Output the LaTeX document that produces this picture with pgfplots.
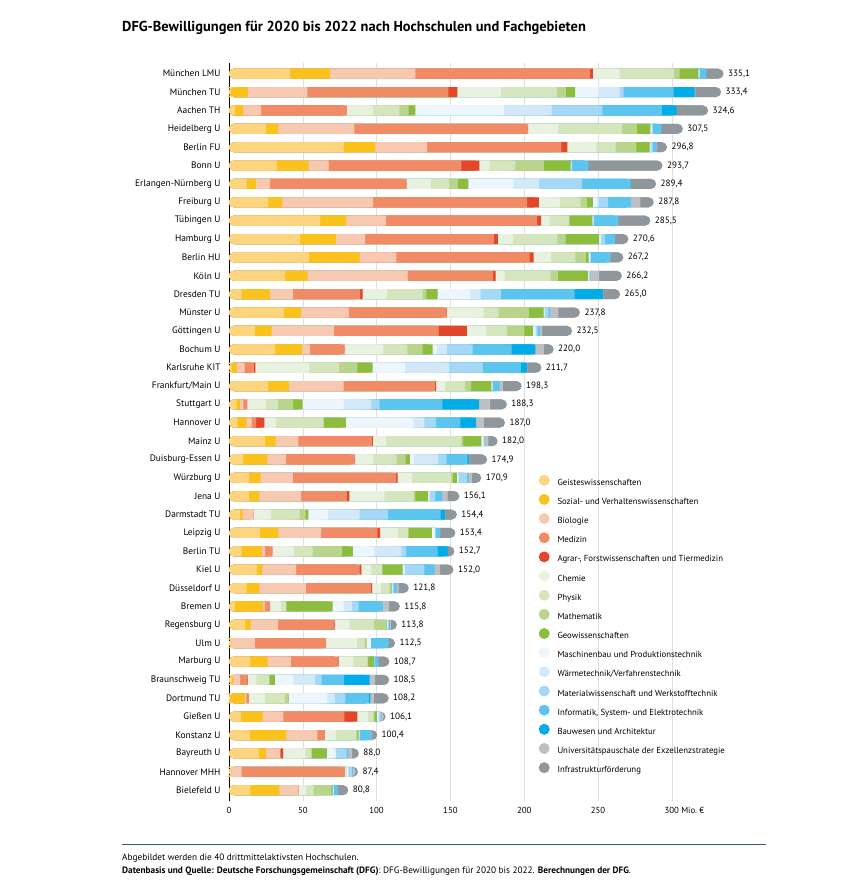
\documentclass[border=0pt]{standalone}
\usepackage{fontspec}
\setmainfont{PT Sans}
\usepackage{pgfplots}
\pgfplotsset{compat=1.18}
\usepackage{pgfplotstable}

\definecolor{cGei}{HTML}{FDD57E}
\definecolor{cSoz}{HTML}{FBC21B}
\definecolor{cBio}{HTML}{F8C9B1}
\definecolor{cMed}{HTML}{F08B65}
\definecolor{cAgr}{HTML}{E4462A}
\definecolor{cChe}{HTML}{E9F1E1}
\definecolor{cPhy}{HTML}{D5E5BE}
\definecolor{cMat}{HTML}{B8D58B}
\definecolor{cGeo}{HTML}{8CBD3C}
\definecolor{cMas}{HTML}{EEF6FD}
\definecolor{cWae}{HTML}{D4E9F8}
\definecolor{cWer}{HTML}{A5D8F6}
\definecolor{cInf}{HTML}{5BC5F0}
\definecolor{cBau}{HTML}{00ADE8}
\definecolor{cExz}{HTML}{BDC1C5}
\definecolor{cIst}{HTML}{90979C}
\definecolor{cLine}{HTML}{3C5570}

% Mio. Euro je Fachgebiet, Reihenfolge wie in der Grafik (0 = oben)
\pgfplotstableread{
idx g s b m a c p ma geo mb w mw inf bau ex infra lab
0 41.4 27.1 57.7 118.3 2.0 18.1 36.9 3.8 12.7 0.5 0.3 0.3 4.3 0 0 11.7 335,1
1 1.5 11.3 40.3 95.5 6.1 29.6 37.8 6.1 6.3 15.8 14.3 2.7 33.9 14.3 0.5 17.4 333,4
2 4.1 5.7 12.0 58.1 0 17.6 17.9 6.3 4.5 60.0 32.4 34.4 40.3 10.0 0 21.3 324,6
3 24.9 8.6 51.4 117.4 0.3 20.6 43.2 10.0 9.0 1.0 0.5 0.3 5.7 0 0 14.6 307,5
4 77.6 21.5 35.1 90.9 4.1 19.7 13.1 14.0 9.0 0.5 0.5 1.2 2.3 0 0.5 6.8 296,8
5 32.4 21.5 13.6 90.0 12.2 6.8 17.6 19.2 18.1 0.5 0.3 0.3 10.9 0 0 50.3 293,7
6 12.0 6.3 9.5 92.3 0.3 16.5 12.2 5.9 7.2 30.5 17.4 29.0 33.0 0.3 0 17.0 289,4
7 26.7 9.5 61.5 104.3 7.9 14.3 14.0 4.5 3.8 2.9 1.1 6.3 15.6 0 6.3 9.1 287,8
8 61.8 17.6 27.1 102.3 2.7 5.7 13.1 0.5 15.4 0.5 0.3 0.3 16.5 0 0 21.7 285,5
9 48.2 24.4 19.7 87.3 2.5 10.4 29.9 5.7 22.6 1.1 0.3 2.7 6.8 0 0 9.0 270,6
10 54.3 34.2 24.9 90.2 2.7 12.0 16.3 7.2 1.8 1.0 0.3 0.3 13.1 0 0.3 8.6 267,2
11 38.0 15.2 67.9 57.9 1.6 6.1 31.2 5.0 20.4 0.5 0.3 0.5 0.3 0 5.9 15.4 266,2
12 8.6 19.2 15.4 45.7 1.6 16.7 24.0 2.5 7.7 22.2 6.8 13.8 50.0 19.2 0.3 11.3 265,0
13 37.3 11.5 32.4 66.1 0.3 24.9 10.2 20.4 10.0 0.5 0.5 2.3 1.1 0 5.7 14.6 237,8
14 17.6 11.3 42.3 70.8 19.2 13.1 14.0 11.8 5.9 1.6 0.5 1.0 1.5 0 1.5 20.4 232,5
15 31.2 18.1 5.7 23.1 0.3 26.2 16.3 10.2 6.8 2.9 6.8 17.4 26.5 16.1 5.7 6.7 220,0
16 2.0 3.4 5.2 6.3 1.0 36.2 20.4 12.4 10.4 21.9 29.9 22.9 25.8 4.1 0.3 9.5 211,7
17 26.7 14.0 36.9 62.0 0.7 6.1 13.6 4.1 13.6 0.5 0.3 0.5 4.3 0 2.3 12.7 198,3
18 5.2 2.3 2.3 2.7 0 12.7 7.9 10.2 6.6 27.8 18.6 5.7 42.5 24.9 7.5 11.4 188,3
19 5.9 6.1 3.4 2.9 5.7 7.9 32.1 0.5 14.7 45.7 7.5 7.9 16.5 10.6 5.2 14.4 187,0
20 24.4 7.2 15.4 49.8 0.7 9.0 51.0 1.1 12.4 1.1 0.5 0.5 0.3 0 2.3 6.3 182,0
21 9.7 16.3 12.7 46.4 0.3 12.4 15.8 6.1 2.9 2.7 16.3 5.9 14.0 1.1 0.3 12.0 174,9
22 13.6 7.9 21.7 70.0 1.1 9.7 26.5 1.1 2.7 0.7 0.5 5.7 1.1 0 2.3 6.3 170,9
23 13.6 7.0 28.3 31.0 1.6 23.8 19.9 1.1 8.4 1.1 0.5 3.6 4.5 0 3.8 7.9 156,1
24 7.5 1.8 7.2 0.3 0 11.8 19.2 4.1 1.8 13.3 21.5 19.2 35.6 2.9 0.3 7.9 154,4
25 21.0 12.4 29.0 38.2 1.8 12.0 6.8 0.5 15.8 2.3 0 0 3.4 0 0 10.2 153,4
26 8.6 13.6 2.3 5.0 0 14.7 12.4 19.9 7.5 14.5 18.3 3.2 21.4 6.8 0 4.5 152,7
27 18.8 3.8 22.9 43.0 1.1 6.8 7.2 0.5 13.6 1.1 0.5 13.0 7.0 0 3.8 9.0 152,0
28 12.0 8.6 31.4 44.3 0.7 5.9 5.7 1.1 0.5 0.5 0.3 0.5 2.0 0 1.5 6.8 121,8
29 4.1 18.8 1.6 3.4 0 7.2 3.4 0.5 31.2 7.5 5.7 4.5 16.3 0 4.1 7.5 115,8
30 10.9 3.8 18.6 38.0 0.3 10.2 16.3 8.6 0.3 0.5 0.3 0.3 1.1 0 0.5 4.1 113,8
31 1.8 0 15.8 48.2 0 20.8 5.2 1.6 0 2.7 0 0 12.0 0 0 4.4 112,5
32 14.3 11.8 15.8 32.0 0.3 10.0 9.7 0.3 4.1 0 0 0.5 2.5 0 0 7.4 108,7
33 2.3 1.1 4.1 5.0 0.3 5.7 8.6 0.5 3.4 12.6 14.7 4.5 15.2 17.2 3.8 9.5 108,5
34 1.0 9.7 1.1 1.6 0 10.9 13.6 2.3 0.3 26.0 5.2 7.2 15.8 1.1 2.3 10.1 108,2
35 8.1 14.7 14.0 41.4 8.8 7.2 3.6 0.9 1.4 0.9 0.5 1.4 0.5 0 1.6 1.1 106,1
36 14.3 24.5 21.0 5.2 0 7.5 13.6 0.9 0.9 0.5 0 0.5 7.5 0 0.5 3.5 100,4
37 20.4 4.8 9.5 0.3 1.6 15.2 3.8 0.5 10.2 5.9 0.3 7.2 1.1 0 2.7 4.5 88,0
38 1.8 0 6.8 69.9 0 1.1 0.5 0 0 0.5 0.5 2.3 0.5 0 2.0 1.5 87,4
39 14.3 19.9 12.4 0.5 0 5.0 5.2 12.0 0.9 0.7 0 0 2.9 0 0 7.0 80,8
}\dfg

% kumulierte Summen fuer die abgerundeten Balkenenden
\pgfplotstablecreatecol[expr={\thisrow{g}}]{c1}\dfg
\pgfplotstablecreatecol[expr={\thisrow{c1}+\thisrow{s}}]{c2}\dfg
\pgfplotstablecreatecol[expr={\thisrow{c2}+\thisrow{b}}]{c3}\dfg
\pgfplotstablecreatecol[expr={\thisrow{c3}+\thisrow{m}}]{c4}\dfg
\pgfplotstablecreatecol[expr={\thisrow{c4}+\thisrow{a}}]{c5}\dfg
\pgfplotstablecreatecol[expr={\thisrow{c5}+\thisrow{c}}]{c6}\dfg
\pgfplotstablecreatecol[expr={\thisrow{c6}+\thisrow{p}}]{c7}\dfg
\pgfplotstablecreatecol[expr={\thisrow{c7}+\thisrow{ma}}]{c8}\dfg
\pgfplotstablecreatecol[expr={\thisrow{c8}+\thisrow{geo}}]{c9}\dfg
\pgfplotstablecreatecol[expr={\thisrow{c9}+\thisrow{mb}}]{c10}\dfg
\pgfplotstablecreatecol[expr={\thisrow{c10}+\thisrow{w}}]{c11}\dfg
\pgfplotstablecreatecol[expr={\thisrow{c11}+\thisrow{mw}}]{c12}\dfg
\pgfplotstablecreatecol[expr={\thisrow{c12}+\thisrow{inf}}]{c13}\dfg
\pgfplotstablecreatecol[expr={\thisrow{c13}+\thisrow{bau}}]{c14}\dfg
\pgfplotstablecreatecol[expr={\thisrow{c14}+\thisrow{ex}}]{c15}\dfg
\pgfplotstablecreatecol[expr={\thisrow{c15}+\thisrow{infra}}]{c16}\dfg

% Abschnitt eines Balkens ohne die beiden runden Enden (Radius 3.4 Einheiten)
\newcommand{\cl}[1]{min(max(\thisrow{#1},3.4),\thisrow{c16}-3.4)}

\pgfplotsset{
  geom/.style={
    at={(229bp,822.3bp)}, anchor=north west,
    x=1.476bp, y=18.37bp,
    xmin=0, xmax=345, ymin=-0.6, ymax=39.6,
    clip=false, bar width=10bp},
  rnd/.style={draw=none, rounded corners=5bp, bar shift=0pt},
  sq/.style={draw=none},
}

\begin{document}
\begin{tikzpicture}
\path[use as bounding box] (0,0) rectangle (849bp,885bp);

\node[anchor=base west, inner sep=0pt, font=\bfseries\fontsize{14.5}{16}\selectfont]
  at (122bp,853bp) {DFG-Bewilligungen für 2020 bis 2022 nach Hochschulen und Fachgebieten};

% Ebene 1: kumulierte Balken mit runden Enden, Achse, Legende, Summen
\begin{axis}[
  geom, xbar,
  axis lines*=left,
  x axis line style={draw=none},
  y axis line style={-, black, line width=0.8bp},
  major tick length=0pt,
  xmajorgrids, grid style={gray!25, line width=0.6bp},
  xtick={0,50,...,300},
  xticklabels={0,50,100,150,200,250,{300\rlap{\ Mio.~€}}},
  ytick={0,...,39},
  yticklabels={Bielefeld U, Hannover MHH, Bayreuth U, Konstanz U, Gießen U, Dortmund TU,
    Braunschweig TU, Marburg U, Ulm U, Regensburg U, Bremen U, Düsseldorf U, Kiel U,
    Berlin TU, Leipzig U, Darmstadt TU, Jena U, Würzburg U, Duisburg-Essen U, Mainz U,
    Hannover U, Stuttgart U, Frankfurt/Main U, Karlsruhe KIT, Bochum U, Göttingen U,
    Münster U, Dresden TU, Köln U, Berlin HU, Hamburg U, Tübingen U, Freiburg U,
    Erlangen-Nürnberg U, Bonn U, Berlin FU, Heidelberg U, Aachen TH, München TU, München LMU},
  yticklabel style={font=\fontsize{9.4}{10}\selectfont, xshift=-5bp},
  xticklabel style={font=\fontsize{8.8}{10}\selectfont, yshift=-3bp},
  reverse legend,
  legend cell align=left,
  legend image code/.code={\draw[#1, draw=none] (0bp,2.7bp) circle (5.5bp);},
  legend style={at={(axis cs:209.7,17.18)}, anchor=north west, draw=none, fill=none,
    inner sep=0pt, font=\fontsize{8.8}{10}\selectfont, row sep=7.1bp,
    nodes={inner sep=0pt},
    /tikz/every odd column/.append style={column sep=7.8bp}},
]
\addplot[rnd, fill=cIst, nodes near coords, point meta=explicit symbolic,
  every node near coord/.append style={font=\fontsize{9.2}{10}\selectfont, anchor=west, xshift=1bp, text=black}]
  table[x=c16, y expr=39-\thisrow{idx}, meta=lab] {\dfg};
\addlegendentry{Infrastrukturförderung}
\addplot[rnd, fill=cExz] table[x=c15, y expr=39-\thisrow{idx}] {\dfg};
\addlegendentry{Universitätspauschale der Exzellenzstrategie}
\addplot[rnd, fill=cBau] table[x=c14, y expr=39-\thisrow{idx}] {\dfg};
\addlegendentry{Bauwesen und Architektur}
\addplot[rnd, fill=cInf] table[x=c13, y expr=39-\thisrow{idx}] {\dfg};
\addlegendentry{Informatik, System- und Elektrotechnik}
\addplot[rnd, fill=cWer] table[x=c12, y expr=39-\thisrow{idx}] {\dfg};
\addlegendentry{Materialwissenschaft und Werkstofftechnik}
\addplot[rnd, fill=cWae] table[x=c11, y expr=39-\thisrow{idx}] {\dfg};
\addlegendentry{Wärmetechnik/Verfahrenstechnik}
\addplot[rnd, fill=cMas] table[x=c10, y expr=39-\thisrow{idx}] {\dfg};
\addlegendentry{Maschinenbau und Produktionstechnik}
\addplot[rnd, fill=cGeo] table[x=c9, y expr=39-\thisrow{idx}] {\dfg};
\addlegendentry{Geowissenschaften}
\addplot[rnd, fill=cMat] table[x=c8, y expr=39-\thisrow{idx}] {\dfg};
\addlegendentry{Mathematik}
\addplot[rnd, fill=cPhy] table[x=c7, y expr=39-\thisrow{idx}] {\dfg};
\addlegendentry{Physik}
\addplot[rnd, fill=cChe] table[x=c6, y expr=39-\thisrow{idx}] {\dfg};
\addlegendentry{Chemie}
\addplot[rnd, fill=cAgr] table[x=c5, y expr=39-\thisrow{idx}] {\dfg};
\addlegendentry{Agrar-, Forstwissenschaften und Tiermedizin}
\addplot[rnd, fill=cMed] table[x=c4, y expr=39-\thisrow{idx}] {\dfg};
\addlegendentry{Medizin}
\addplot[rnd, fill=cBio] table[x=c3, y expr=39-\thisrow{idx}] {\dfg};
\addlegendentry{Biologie}
\addplot[rnd, fill=cSoz] table[x=c2, y expr=39-\thisrow{idx}] {\dfg};
\addlegendentry{Sozial- und Verhaltenswissenschaften}
\addplot[rnd, fill=cGei] table[x=c1, y expr=39-\thisrow{idx}] {\dfg};
\addlegendentry{Geisteswissenschaften}
\end{axis}

% Ebene 2: gerade Abschnitte zwischen den runden Enden
\begin{axis}[geom, xbar stacked, hide axis]
\addplot[draw=none, fill=none] table[x expr=3.4, y expr=39-\thisrow{idx}] {\dfg};
\addplot[sq, fill=cGei] table[x expr={\cl{c1}-3.4}, y expr=39-\thisrow{idx}] {\dfg};
\addplot[sq, fill=cSoz] table[x expr={\cl{c2}-\cl{c1}}, y expr=39-\thisrow{idx}] {\dfg};
\addplot[sq, fill=cBio] table[x expr={\cl{c3}-\cl{c2}}, y expr=39-\thisrow{idx}] {\dfg};
\addplot[sq, fill=cMed] table[x expr={\cl{c4}-\cl{c3}}, y expr=39-\thisrow{idx}] {\dfg};
\addplot[sq, fill=cAgr] table[x expr={\cl{c5}-\cl{c4}}, y expr=39-\thisrow{idx}] {\dfg};
\addplot[sq, fill=cChe] table[x expr={\cl{c6}-\cl{c5}}, y expr=39-\thisrow{idx}] {\dfg};
\addplot[sq, fill=cPhy] table[x expr={\cl{c7}-\cl{c6}}, y expr=39-\thisrow{idx}] {\dfg};
\addplot[sq, fill=cMat] table[x expr={\cl{c8}-\cl{c7}}, y expr=39-\thisrow{idx}] {\dfg};
\addplot[sq, fill=cGeo] table[x expr={\cl{c9}-\cl{c8}}, y expr=39-\thisrow{idx}] {\dfg};
\addplot[sq, fill=cMas] table[x expr={\cl{c10}-\cl{c9}}, y expr=39-\thisrow{idx}] {\dfg};
\addplot[sq, fill=cWae] table[x expr={\cl{c11}-\cl{c10}}, y expr=39-\thisrow{idx}] {\dfg};
\addplot[sq, fill=cWer] table[x expr={\cl{c12}-\cl{c11}}, y expr=39-\thisrow{idx}] {\dfg};
\addplot[sq, fill=cInf] table[x expr={\cl{c13}-\cl{c12}}, y expr=39-\thisrow{idx}] {\dfg};
\addplot[sq, fill=cBau] table[x expr={\cl{c14}-\cl{c13}}, y expr=39-\thisrow{idx}] {\dfg};
\addplot[sq, fill=cExz] table[x expr={\cl{c15}-\cl{c14}}, y expr=39-\thisrow{idx}] {\dfg};
\addplot[sq, fill=cIst] table[x expr={\cl{c16}-\cl{c15}}, y expr=39-\thisrow{idx}] {\dfg};
\end{axis}

\draw[cLine, line width=1bp] (122bp,40bp) -- (766bp,40bp);
\node[anchor=base west, inner sep=0pt, font=\fontsize{9.3}{10}\selectfont] at (122bp,25bp)
  {Abgebildet werden die 40 drittmittelaktivsten Hochschulen.};
\node[anchor=base west, inner sep=0pt, font=\fontsize{9.3}{10}\selectfont] at (122bp,12bp)
  {\textbf{Datenbasis und Quelle: Deutsche Forschungsgemeinschaft (DFG)}: DFG-Bewilligungen für 2020 bis 2022. \textbf{Berechnungen der DFG}.};
\end{tikzpicture}
\end{document}
